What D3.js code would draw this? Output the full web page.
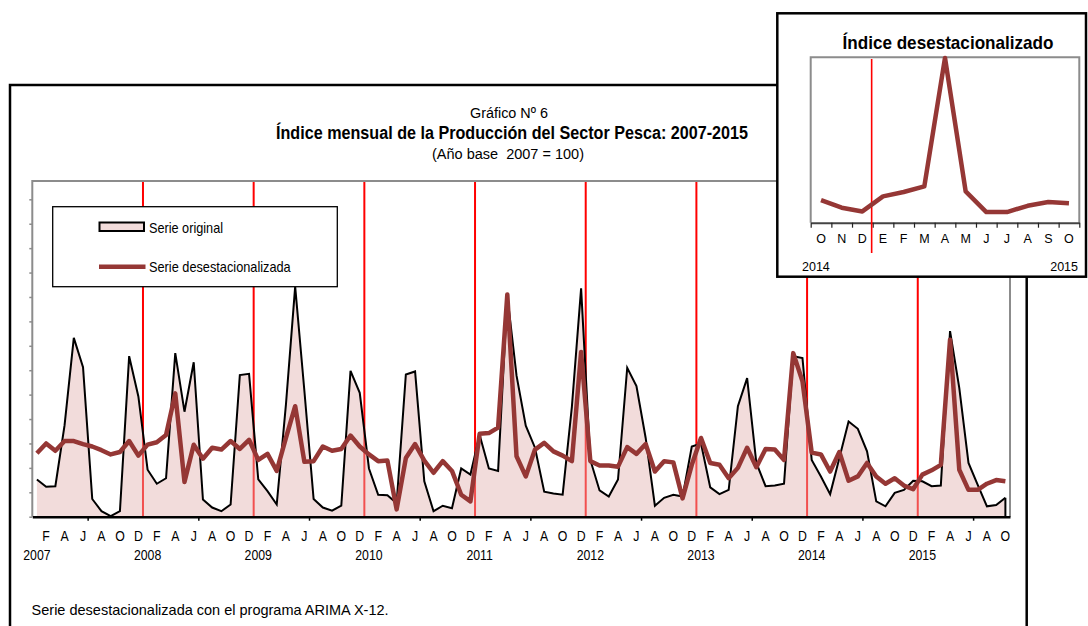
<!DOCTYPE html>
<html><head><meta charset="utf-8">
<script src="https://cdn.jsdelivr.net/npm/d3@7"></script>
<style>
html,body{margin:0;padding:0;background:#fff;}
svg{display:block;font-family:"Liberation Sans",Arial,Helvetica,sans-serif;}
text{white-space:pre;}
</style></head><body>
<svg id="c" width="1088" height="626"></svg>
<script>
// ---------- DATA ----------
const monthLetters = ["F","A","J","A","O","D"];           // Feb, Apr, Jun, Aug, Oct, Dec
const yearLabels = ["2007","2008","2009","2010","2011","2012","2013","2014","2015"];
// Serie original, Jan 2007 .. Oct 2015
const original = [
 61,49,50,150,293,245,29,9,1,9,263,197,
 77,54,63,268,172,253,28,15,9,20,232,234,
 61,42,20,184,377,206,29,15,10,18,239,203,
 79,36,35,22,233,238,58,9,18,14,79,69,
 134,79,75,362,231,149,113,41,38,36,180,374,
 93,43,33,61,244,214,129,18,31,36,33,115,
 120,48,37,44,181,227,88,50,51,54,263,260,
 93,66,37,96,156,144,107,25,17,39,44,59,
 58,50,51,304,211,88,52,17,19,31];
// Serie desestacionalizada, Jan 2007 .. Oct 2015
const desest = [
 104,120,108,124,124,119,115,109,102,106,124,100,
 118,122,134,202,57,118,95,113,110,124,111,126,
 93,103,75,129,181,90,91,115,108,111,133,115,
 102,91,92,12,96,119,92,72,91,75,36,25,
 136,137,146,364,99,66,110,121,107,100,91,270,
 91,84,84,82,114,103,119,74,91,89,30,85,
 129,88,85,63,80,113,81,111,110,93,268,222,
 105,102,74,106,59,66,88,66,54,63,51,45,
 69,76,85,290,77,44,44,54,60,58];
const yTicks = d3.range(0, 521, 40);
const insetMonths = ["O","N","D","E","F","M","A","M","J","J","A","S","O"];
const insetYears = ["2014","2015"];
const insetValues = desest.slice(93);   // Oct 2014 .. Oct 2015

// ---------- HELPERS ----------
const svg = d3.select("#c");
function narrow(sel, f){ sel.each(function(){ const w=this.getComputedTextLength(); d3.select(this).attr("textLength",w*f).attr("lengthAdjust","spacingAndGlyphs"); }); }
function label(g, s, xx, yy, size, opts={}){
  const t = g.append("text").attr("x",xx).attr("y",yy).attr("font-size",size)
    .attr("text-anchor",opts.anchor||"start").attr("fill","#000").text(s);
  if(opts.bold) t.attr("font-weight","bold");
  if(opts.len) t.attr("textLength",opts.len).attr("lengthAdjust","spacingAndGlyphs");
  if(opts.f) narrow(t, opts.f);
  return t;
}

// ---------- MAIN FRAME ----------
svg.append("rect").attr("x",10).attr("y",85).attr("width",1016.7).attr("height",620)
  .attr("fill","#fff").attr("stroke","#000").attr("stroke-width",2.5);

label(svg,"Gráfico Nº 6",509,118,15.5,{anchor:"middle",len:78});
label(svg,"Índice mensual de la Producción del Sector Pesca: 2007-2015",512,138.5,18,{anchor:"middle",bold:true,len:472});
label(svg,"(Año base  2007 = 100)",508,159,15.5,{anchor:"middle",len:152});

// ---------- MAIN PLOT ----------
const P = {l:32.3, r:1010, t:181, b:516.7};
const x = d3.scaleLinear().domain([-0.5, original.length-0.5]).range([P.l,P.r]);
const y = d3.scaleLinear().domain([0,550]).range([P.b,P.t]);

svg.append("rect").attr("x",P.l).attr("y",P.t).attr("width",P.r-P.l).attr("height",P.b-P.t).attr("fill","#fff");

const yearBounds = d3.range(11.5, original.length, 12);
svg.append("g").selectAll("line").data(yearBounds).join("line")
  .attr("x1",d=>x(d)).attr("x2",d=>x(d)).attr("y1",P.t).attr("y2",P.b)
  .attr("stroke","#ff0000").attr("stroke-width",2);

svg.append("path").datum(original)
  .attr("d", d3.area().x((d,i)=>x(i)).y0(y(0)).y1(d=>y(d)))
  .attr("fill","rgb(226,177,175)").attr("fill-opacity",0.45);
svg.append("path").datum(original)
  .attr("d", d3.line().x((d,i)=>x(i)).y(d=>y(d)))
  .attr("fill","none").attr("stroke","#000").attr("stroke-width",2).attr("stroke-linejoin","miter");
// closing edge of the area at the last month
const lastI = original.length-1;
svg.append("line").attr("x1",x(lastI)).attr("x2",x(lastI)).attr("y1",y(original[lastI])).attr("y2",y(0))
  .attr("stroke","#000").attr("stroke-width",2);
svg.append("path").datum(desest)
  .attr("d", d3.line().x((d,i)=>x(i)).y(d=>y(d)))
  .attr("fill","none").attr("stroke","#953735").attr("stroke-width",4.5).attr("stroke-linejoin","round");

svg.append("path").attr("d",`M${P.l},${P.b}V${P.t}H${P.r}V${P.b}`)
  .attr("fill","none").attr("stroke","#8c8c8c").attr("stroke-width",2);

svg.append("g").attr("transform",`translate(${P.l},0)`)
  .call(d3.axisLeft(y).tickValues(yTicks).tickSize(3).tickFormat(""))
  .call(g=>{g.select(".domain").remove(); g.selectAll(".tick line").attr("stroke","#8c8c8c").attr("stroke-width",1.5);});

svg.append("g").attr("transform",`translate(0,${P.b})`)
  .call(d3.axisBottom(x).tickValues(d3.range(5.5, original.length, 12)).tickSize(4).tickSizeOuter(0).tickFormat(""))
  .call(g=>{g.select(".domain").attr("stroke","#000").attr("stroke-width",2.5);
            g.selectAll(".tick line").attr("stroke","#000").attr("stroke-width",1.5);});

// month letters
const xl = svg.append("g");
original.forEach((d,i)=>{
  const m = i%12;
  if(m%2===1) label(xl, monthLetters[(m-1)/2], x(i), 541, 15, {anchor:"middle", f:0.82});
});
yearLabels.forEach((s,k)=>{ label(xl, s, x(k*12), 560, 15, {anchor:"middle", f:0.82}); });

// legend
const lg = svg.append("g");
lg.append("rect").attr("x",52.7).attr("y",206.7).attr("width",284.6).attr("height",80)
  .attr("fill","#fff").attr("stroke","#000").attr("stroke-width",1.3);
lg.append("rect").attr("x",99.5).attr("y",222.5).attr("width",44.5).attr("height",8.5)
  .attr("fill","#f2dcdb").attr("stroke","#000").attr("stroke-width",2);
label(lg,"Serie original",149,232.5,15,{len:74});
lg.append("line").attr("x1",99).attr("x2",145.5).attr("y1",266.7).attr("y2",266.7)
  .attr("stroke","#953735").attr("stroke-width",4.5);
label(lg,"Serie desestacionalizada",149,271.7,15,{len:141.7});

// footnote
label(svg,"Serie desestacionalizada con el programa ARIMA X-12.",31.6,615,14.5,{len:357});

// ---------- INSET ----------
const ins = svg.append("g");
ins.append("rect").attr("x",777.3).attr("y",13.3).attr("width",308.7).attr("height",263.4)
  .attr("fill","#fff").attr("stroke","#000").attr("stroke-width",2.5);
label(ins,"Índice desestacionalizado",948,49.3,18.5,{anchor:"middle",bold:true,len:211});

const IP = {l:810.7, r:1079.3, t:57.3, b:222.7};
const xi = d3.scaleLinear().domain([-0.5, insetValues.length-0.5]).range([IP.l,IP.r]);
const yi = d3.scaleLinear().domain([27,291]).range([IP.b,IP.t]);

ins.append("path").attr("d",`M${IP.l},${IP.b}V${IP.t}H${IP.r}V${IP.b}`)
  .attr("fill","none").attr("stroke","#8c8c8c").attr("stroke-width",2);
ins.append("g").attr("transform",`translate(0,${IP.b})`)
  .call(d3.axisBottom(xi).tickValues(d3.range(-0.5, insetValues.length, 1)).tickSize(5).tickSizeOuter(0).tickFormat(""))
  .call(g=>{g.select(".domain").attr("stroke","#444").attr("stroke-width",2);
            g.selectAll(".tick line").attr("stroke","#222").attr("stroke-width",1.2);});
ins.append("line").attr("x1",xi(2.45)).attr("x2",xi(2.45)).attr("y1",59).attr("y2",253)
  .attr("stroke","#ff0000").attr("stroke-width",1.6);
ins.append("path").datum(insetValues)
  .attr("d", d3.line().x((d,i)=>xi(i)).y(d=>yi(d)))
  .attr("fill","none").attr("stroke","#953735").attr("stroke-width",4.5).attr("stroke-linejoin","round");
insetMonths.forEach((s,i)=>label(ins, s, xi(i), 243.3, 12.5, {anchor:"middle"}));
label(ins, insetYears[0], 802, 271, 12.5, {anchor:"start"});
label(ins, insetYears[1], 1078, 271, 12.5, {anchor:"end"});
</script>
</body></html>
